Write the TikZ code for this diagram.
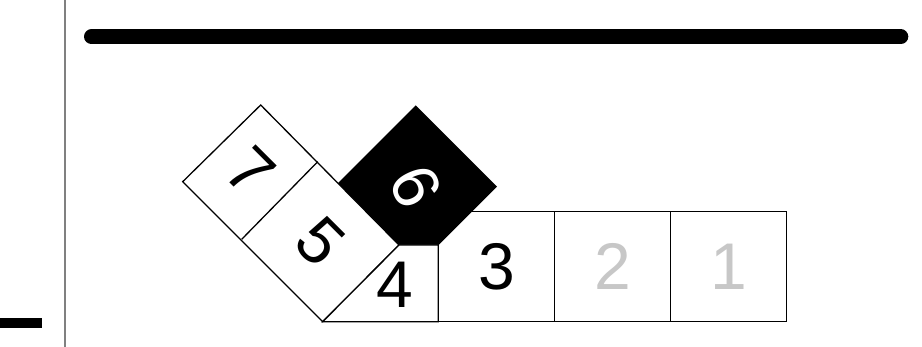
\documentclass[tikz,border=0pt]{standalone}
\usepackage{fontspec}
\setmainfont{Liberation Sans}
\usetikzlibrary{positioning}

\definecolor{fadegray}{gray}{0.78}
\tikzset{
    rim/.style={draw=black, line width=1.3pt},
    cellbox/.style={rim, fill=white, minimum width=116.1pt, minimum height=110pt, inner sep=0pt, outer sep=0pt},
    digit/.style={font=\fontsize{66}{66}\selectfont, inner sep=0pt}
}

\begin{document}
\begin{tikzpicture}[x=1pt, y=-1pt]
    \useasboundingbox (0,0) rectangle (922,347);
    \draw[gray, line width=1.5pt] (65,0) -- (65,347);
    \fill (0,318) rectangle (42,328);
    \draw[line width=15pt, line cap=round] (91.5,36.8) -- (900.8,36.8);
    % flat row
    \node[cellbox, digit] (three) at (496.35,266.7) {3};
    \node[cellbox, digit, text=fadegray, right=0pt of three] (two) {2};
    \node[cellbox, digit, text=fadegray, right=0pt of two] (one) {1};
    % black square
    \node[fill=black, minimum size=115pt, inner sep=0pt, rotate=45] (six) at (415.7,186.7) {};
    % folded strip
    \coordinate (stripT) at (260.7,105);
    \coordinate (stripR) at (399,245);
    \coordinate (stripB) at (322.7,321.7);
    \coordinate (stripL) at (182.7,181.7);
    \coordinate (foldR) at (317.7,161.7);
    \coordinate (foldL) at (241.7,239.3);
    \filldraw[rim, fill=white] (stripT) -- (stripR) -- (stripB) -- (stripL) -- cycle;
    \draw[rim] (foldR) -- (foldL);
    \filldraw[rim, fill=white] (stripR) -- (three.north west |- stripR) -- (three.south west) -- (stripB) -- cycle;
    \node[digit, rotate=-45] (seven) at (250.7,171.9) {7};
    \node[digit, rotate=-45] (five) at (320.3,241.9) {5};
    \node[digit, rotate=-65, text=white] (sixlabel) at (six.center) {6};
    \node[digit] (four) at (394.5,285) {4};
\end{tikzpicture}
\end{document}
